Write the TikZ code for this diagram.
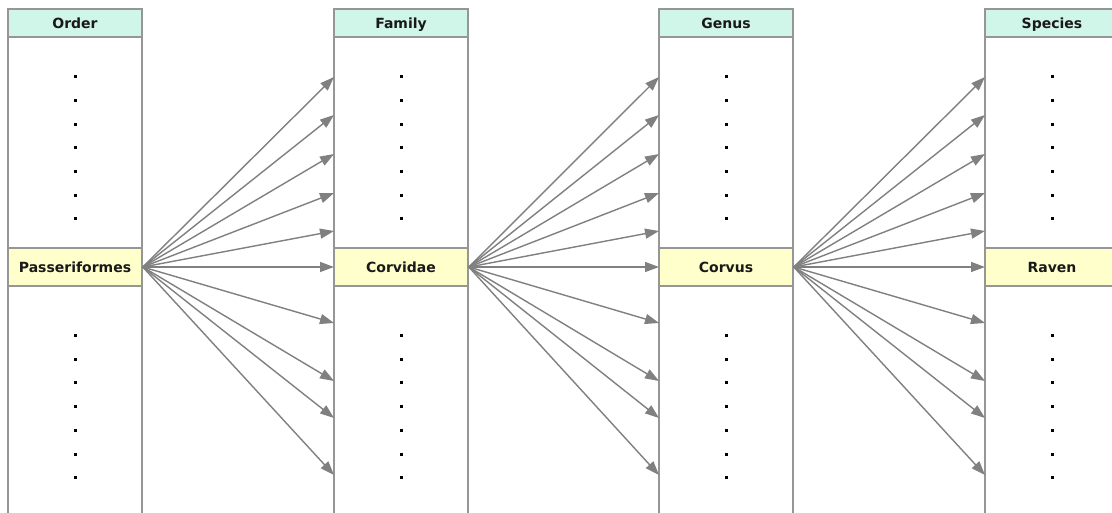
\documentclass[tikz,border=0pt]{standalone}
\usepackage{fontspec}
\setmainfont{DejaVu Sans}
\usetikzlibrary{arrows.meta}
\definecolor{hdr}{RGB}{208,245,233}
\definecolor{sel}{RGB}{255,255,204}
\definecolor{bord}{RGB}{150,150,150}
\definecolor{arr}{RGB}{128,128,128}
\definecolor{txt}{RGB}{25,25,25}
\tikzset{
  colline/.style={draw=bord,line width=1.6pt},
  boxfont/.style={font=\bfseries\fontsize{14}{16}\selectfont,text=txt,text height=10.2pt,text depth=0pt},
  hdrbox/.style={draw=bord,line width=1.6pt,fill=hdr,minimum width=134pt,minimum height=28pt,inner sep=0pt,boxfont},
  selbox/.style={draw=bord,line width=1.6pt,fill=sel,minimum width=134pt,minimum height=38pt,inner sep=0pt,boxfont},
  dotmark/.style={rectangle,fill=black,inner sep=0pt,minimum size=3pt},
  link/.style={draw=arr,line width=1.4pt,-{Triangle[length=14pt,width=10pt]}},
}
\begin{document}
\begin{tikzpicture}[x=1pt,y=-1pt]
\useasboundingbox (0,0) rectangle (1112,512);
\clip (0,0) rectangle (1112,512);
\fill[white] (0,0) rectangle (1112,512);
\foreach \name/\cx/\title/\sel in {ord/75/Order/Passeriformes, fam/401/Family/Corvidae, gen/726/Genus/Corvus, spe/1052/Species/Raven} {
  \draw[colline] (\cx-67,530) -- (\cx-67,9) -- (\cx+67,9) -- (\cx+67,530);
  \node[hdrbox] (\name-h) at (\cx,23) {\title};
  \node[selbox] (\name-s) at (\cx,267) {\sel};
  \foreach \y [count=\i] in {76,100,124,147,171,195,218} {
    \node[dotmark] (\name-u\i) at (\cx,\y) {};
  }
  \foreach \y [count=\i] in {335,359,382,406,430,454,477} {
    \node[dotmark] (\name-l\i) at (\cx,\y) {};
  }
  \foreach \t [count=\i] in {77,115,154,193,231,267,323,381,418,475} {
    \coordinate (\name-in\i) at (\cx-67,\t);
  }
}
\foreach \a/\b in {ord/fam, fam/gen, gen/spe} {
  \foreach \i in {1,...,10} {
    \draw[link] (\a-s.east) -- (\b-in\i);
  }
}
\end{tikzpicture}
\end{document}
